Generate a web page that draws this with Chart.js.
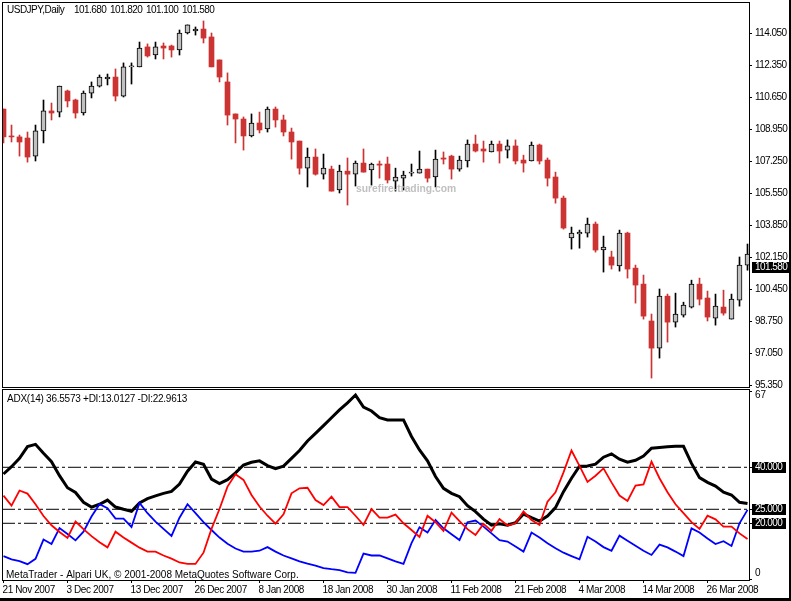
<!DOCTYPE html>
<html>
<head>
<meta charset="utf-8">
<title>USDJPY Daily ADX</title>
<script src="https://cdn.jsdelivr.net/npm/chart.js@4"></script>
<style>
    html, body { margin: 0; padding: 0; background: #fff; overflow: hidden; }
    canvas { position: absolute; left: 0; }
    #priceCanvas { top: 0; }
    #adxCanvas { top: 388px; }
    #edgeRight { position: absolute; left: 789px; top: 0; width: 2px; height: 601px; background: #000; }
    #edgeBottom { position: absolute; left: 0; top: 598px; width: 791px; height: 3px; background: #000; }
</style>
</head>
<body>
<canvas id="priceCanvas" width="789" height="388"></canvas>
<canvas id="adxCanvas" width="789" height="210"></canvas>
<div id="edgeRight"></div>
<div id="edgeBottom"></div>
<script>
const opens = [
    110.01,108.58,108.53,108.47,107.51,108.85,109.91,109.85,110.97,110.49,
    109.80,110.86,111.23,111.61,111.71,110.70,112.25,112.25,113.31,112.88,
    113.36,113.36,113.15,114.05,114.16,114.26,113.84,112.62,111.45,109.75,
    109.48,108.58,109.27,108.95,110.01,109.43,108.79,108.31,106.87,107.46,
    106.55,106.82,105.71,106.71,106.55,107.14,106.77,107.09,107.09,106.18,
    106.34,106.61,106.61,106.82,106.40,107.41,107.51,106.82,107.25,108.15,
    107.89,107.73,108.15,107.83,108.05,107.30,107.25,108.10,107.30,106.40,
    105.28,103.16,103.37,103.42,103.90,102.52,102.15,101.67,103.42,101.56,
    100.71,98.75,97.31,100.07,98.69,99.06,99.49,100.71,99.97,98.90,
    99.49,98.85,99.86,101.72
];
const highs = [
    110.01,109.16,108.63,108.79,109.16,110.49,110.33,111.23,111.02,110.54,
    110.97,111.45,111.82,111.87,112.14,112.46,112.46,113.57,113.47,113.57,
    113.52,113.41,114.21,114.48,114.37,114.69,114.05,112.62,111.93,109.75,
    109.59,109.75,109.85,110.12,110.12,109.69,109.00,108.31,107.94,107.89,
    107.62,106.98,107.03,107.41,107.25,107.89,107.14,107.25,107.46,106.87,
    106.71,107.09,107.78,106.82,107.83,107.73,107.56,107.51,108.37,108.63,
    108.31,108.31,108.31,108.37,108.37,107.56,108.26,108.15,107.41,106.66,
    105.39,103.74,103.58,104.22,104.01,103.26,102.46,103.58,103.47,101.72,
    101.19,99.12,100.45,100.18,100.23,99.75,100.92,101.03,100.34,100.18,
    100.39,100.18,102.15,102.84
];
const lows = [
    108.21,108.26,107.51,107.19,107.25,108.21,109.43,109.59,110.12,109.53,
    109.69,110.60,111.18,111.29,110.44,110.65,111.34,112.25,112.77,112.67,
    112.67,112.77,112.88,114.00,113.94,113.52,112.25,111.45,109.16,108.21,
    107.83,108.53,108.74,108.79,109.05,108.58,107.35,106.55,105.87,106.50,
    106.29,105.65,105.55,104.91,105.92,106.66,105.97,106.34,106.08,105.65,
    105.71,106.45,106.61,106.13,105.87,107.09,106.29,106.71,106.93,107.73,
    107.19,107.73,107.14,107.41,107.09,106.66,107.25,107.09,105.92,105.01,
    103.63,102.57,102.62,103.21,102.41,101.35,101.51,101.40,101.03,99.70,
    98.85,95.72,96.78,97.63,98.43,98.96,99.44,99.60,98.75,98.53,
    99.06,98.85,99.54,101.45
];
const closes = [
    108.53,108.53,108.26,107.46,108.85,109.91,109.80,111.23,110.44,109.80,
    110.86,111.23,111.71,111.71,110.70,112.25,112.30,113.25,112.83,113.31,
    113.25,113.15,114.05,114.48,114.26,113.78,112.25,111.71,109.69,109.48,
    108.58,109.27,108.90,110.01,109.43,108.79,108.26,106.87,107.46,106.55,
    106.87,105.65,106.71,106.55,107.14,106.66,107.09,107.03,106.24,106.40,
    106.50,106.66,106.82,106.34,107.35,107.35,106.82,107.30,108.15,107.78,
    107.78,108.15,107.78,108.05,107.25,107.14,108.10,107.25,106.34,105.28,
    103.69,103.42,103.47,103.90,102.52,102.68,101.72,103.42,101.51,100.66,
    99.01,97.31,100.07,98.69,99.12,99.60,100.71,99.91,98.96,99.54,
    99.17,99.91,101.72,102.30
];
const adxValues = [
    37.6,40.2,43.2,47.4,48.2,45.0,42.0,37.0,32.7,31.0,
    27.5,25.8,26.8,28.3,25.8,25.0,24.3,27.3,28.8,29.8,
    30.7,31.4,34.0,38.6,41.9,41.1,35.8,34.2,35.6,38.0,
    40.8,41.8,42.3,40.6,39.5,40.4,43.2,46.0,49.4,52.1,
    54.9,57.7,60.5,63.0,65.8,61.5,60.1,57.7,56.9,56.9,
    56.9,51.0,46.2,42.3,36.7,32.5,30.7,29.5,26.3,24.2,
    21.5,19.3,19.8,19.3,20.2,23.3,22.0,20.8,22.6,25.6,
    31.3,36.1,40.4,40.5,41.1,43.6,44.8,42.9,41.8,42.5,
    44.0,46.8,47.1,47.3,47.5,47.5,41.4,36.3,34.6,33.3,
    31.1,30.1,27.5,27.1
];
const redValues = [
    29.9,26.3,31.7,30.6,26.8,22.6,19.3,16.9,14.8,20.6,
    17.9,15.4,13.2,11.4,17.0,14.9,13.1,11.3,9.9,9.9,
    8.5,7.4,6.0,5.5,5.5,9.5,18.0,25.1,33.1,37.5,
    35.5,30.1,26.0,22.7,19.9,23.2,30.7,32.5,32.7,28.3,
    26.5,29.5,25.8,25.8,22.7,19.4,25.1,22.0,22.0,23.1,
    20.0,17.6,15.1,22.7,20.4,17.3,23.8,20.8,17.9,15.8,
    19.8,17.3,21.5,19.2,20.0,24.2,21.2,19.4,27.7,31.1,
    38.2,46.0,40.5,34.8,37.0,39.6,34.6,29.9,28.0,33.5,
    33.9,42.0,36.1,31.1,26.8,23.6,20.4,18.0,22.7,21.4,
    18.8,18.8,16.4,14.4
];
const blueValues = [
    8.3,7.1,6.5,5.4,7.3,14.2,12.6,18.3,16.2,13.9,
    17.0,22.4,26.8,25.4,21.7,21.7,18.7,27.3,23.6,20.6,
    18.0,15.5,22.0,26.8,23.6,20.4,17.6,14.9,12.7,11.0,
    9.9,9.9,10.2,11.5,9.9,8.5,7.5,6.4,5.6,4.9,
    4.0,3.6,3.3,2.5,2.3,9.2,8.5,8.5,7.5,6.4,
    5.5,12.9,18.6,16.7,21.2,18.2,16.1,14.0,20.4,21.0,
    18.8,16.4,14.0,13.5,11.7,9.9,16.7,14.9,12.9,11.1,
    9.5,8.3,7.1,15.2,13.5,11.5,10.2,15.6,13.8,12.0,
    10.2,8.7,12.4,11.4,9.9,8.3,18.2,16.7,14.6,12.6,
    13.6,11.9,20.0,24.8
];
const priceTicks = [114.05, 112.35, 110.65, 108.95, 107.25, 105.55, 103.85, 102.15, 100.45, 98.75, 97.05, 95.35];
const headerValues = ['101.680', '101.820', '101.100', '101.580'];
const dateTicks = [0, 8, 16, 24, 32, 40, 48, 56, 64, 72, 80, 88];
const dateLabels = ['21 Nov 2007', '3 Dec 2007', '13 Dec 2007', '26 Dec 2007', '8 Jan 2008', '18 Jan 2008',
    '30 Jan 2008', '11 Feb 2008', '21 Feb 2008', '4 Mar 2008', '14 Mar 2008', '26 Mar 2008'];
const adxLevels = [40, 25, 20];
const adxEnds = [0, 67];
const lastPrice = 101.58;

const FONT = '"Liberation Sans", Arial, sans-serif';
const textFont = '10px ' + FONT;
const RED = '#cc3333';
const GRAY = '#c0c0c0';
const indexes = closes.map((c, i) => i);

Chart.defaults.animation = false;
Chart.defaults.responsive = false;
Chart.defaults.devicePixelRatio = 1;
Chart.defaults.font.family = FONT;
Chart.defaults.font.size = 10;
Chart.defaults.color = '#000';

// the screen font of the original is narrow, so text gets a tighter spacing
function drawText(ctx, text, x, y, spacing, color, font) {
    ctx.letterSpacing = spacing + 'px';
    ctx.font = font || textFont;
    ctx.fillStyle = color || '#000';
    ctx.textAlign = 'left';
    ctx.textBaseline = 'middle';
    ctx.fillText(text, x, y);
}

function drawTag(ctx, value, y, width) {
    ctx.fillStyle = '#000';
    ctx.fillRect(752, y - 5, width, 11);
    drawText(ctx, value, 755, y + 0.5, -0.55, '#fff');
}

function frame(chart) {
    const a = chart.chartArea;
    chart.ctx.strokeStyle = '#000';
    chart.ctx.lineWidth = 1;
    chart.ctx.strokeRect(a.left + 0.5, a.top + 0.5, a.right - a.left, a.bottom - a.top);
}

// axis labels sit away from the plot edges here, so no overhang padding is needed
function fixedWidth(scale) {
    scale.width = 40;
    scale.paddingTop = 0;
    scale.paddingBottom = 0;
}

const pricePlugin = {
    id: 'pricePlugin',
    beforeDraw(chart) {
        chart.ctx.letterSpacing = '-0.55px';
    },
    afterDatasetsDraw(chart) {
        drawText(chart.ctx, 'surefire-trading.com', 356, 189, 0, GRAY, 'bold 10.3px ' + FONT);
    },
    afterDraw(chart) {
        frame(chart);
        drawText(chart.ctx, 'USDJPY,Daily', 7, 10, -0.5);
        headerValues.forEach((value, i) => {
            drawText(chart.ctx, value, 74 + 36 * i, 10, -0.55);
        });
        drawTag(chart.ctx, lastPrice.toFixed(3), Math.floor(chart.scales.y.getPixelForValue(lastPrice)), 37);
    }
};

const adxPlugin = {
    id: 'adxPlugin',
    beforeDraw(chart) {
        chart.ctx.letterSpacing = '-0.4px';
    },
    afterDraw(chart) {
        const y = chart.scales.y;
        frame(chart);
        drawText(chart.ctx, 'ADX(14) 36.5573 +DI:13.0127 -DI:22.9613', 7, 11, -0.25);
        drawText(chart.ctx, 'MetaTrader - Alpari UK, \u00a9 2001-2008 MetaQuotes Software Corp.', 6, 187, 0);
        drawText(chart.ctx, adxEnds[1], 755, y.getPixelForValue(adxEnds[1]) + 4, 0);
        drawText(chart.ctx, adxEnds[0], 755, y.getPixelForValue(adxEnds[0]) - 6, 0);
        adxLevels.forEach(level => {
            drawTag(chart.ctx, level.toFixed(3), Math.floor(y.getPixelForValue(level)), 34);
        });
    }
};

const xBase = {
    type: 'linear',
    offset: false,
    min: -0.1875,
    max: 93.1875
};

new Chart(document.getElementById('priceCanvas'), {
    type: 'bar',
    plugins: [pricePlugin],
    data: {
        datasets: [
            {
                // bodies
                data: indexes.map(i => ({ x: i, y: [opens[i], closes[i]] })),
                backgroundColor: indexes.map(i => closes[i] >= opens[i] ? GRAY : RED),
                borderColor: '#000',
                borderWidth: indexes.map(i => closes[i] >= opens[i] ? 1 : 0),
                borderSkipped: false,
                barThickness: 5,
                grouped: false,
                order: 1
            },
            {
                // wicks
                data: indexes.map(i => ({ x: i, y: [lows[i], highs[i]] })),
                backgroundColor: indexes.map(i => closes[i] >= opens[i] ? '#000' : RED),
                barThickness: 1,
                grouped: false,
                order: 2
            }
        ]
    },
    options: {
        layout: { padding: { left: 2, top: 2, bottom: 1 } },
        plugins: { legend: { display: false }, tooltip: { enabled: false } },
        scales: {
            x: { ...xBase, display: false },
            y: {
                position: 'right',
                min: 95.244,
                max: 115.697,
                afterFit: fixedWidth,
                afterBuildTicks(scale) { scale.ticks = priceTicks.map(value => ({ value })); },
                grid: { drawOnChartArea: false, tickLength: 3, color: '#000' },
                border: { color: '#000' },
                ticks: { padding: 3, callback: value => value.toFixed(3) }
            }
        }
    }
});

new Chart(document.getElementById('adxCanvas'), {
    type: 'line',
    plugins: [adxPlugin],
    data: {
        datasets: [
            {
                data: indexes.map(i => ({ x: i, y: redValues[i] })),
                borderColor: '#ff0000',
                borderWidth: 1.8,
                pointRadius: 0,
                order: 1
            },
            {
                data: indexes.map(i => ({ x: i, y: blueValues[i] })),
                borderColor: '#0000ff',
                borderWidth: 1.8,
                pointRadius: 0,
                order: 2
            },
            {
                data: indexes.map(i => ({ x: i, y: adxValues[i] })),
                borderColor: '#000',
                borderWidth: 3,
                pointRadius: 0,
                order: 3
            }
        ].concat(adxLevels.map(level => ({
            data: [{ x: xBase.min, y: level }, { x: xBase.max, y: level }],
            borderColor: '#000',
            borderWidth: 1,
            borderDash: [13, 3, 3, 3],
            pointRadius: 0,
            order: 4
        })))
    },
    options: {
        layout: { padding: { left: 2, top: 1 } },
        plugins: { legend: { display: false }, tooltip: { enabled: false } },
        scales: {
            x: {
                ...xBase,
                afterFit(scale) {
                    scale.height = 18;
                    scale.paddingLeft = 0;
                    scale.paddingRight = 0;
                },
                afterBuildTicks(scale) { scale.ticks = dateTicks.map(value => ({ value })); },
                grid: { drawOnChartArea: false, tickLength: 3, color: '#000' },
                border: { color: '#000' },
                ticks: {
                    align: 'start',
                    padding: 1,
                    labelOffset: -1,
                    maxRotation: 0,
                    autoSkip: false,
                    callback: value => dateLabels[dateTicks.indexOf(value)]
                }
            },
            y: {
                position: 'right',
                min: -0.25,
                max: 67.96,
                afterFit: fixedWidth,
                afterBuildTicks(scale) {
                    scale.ticks = adxEnds.concat(adxLevels).map(value => ({ value }));
                },
                grid: { drawOnChartArea: false, tickLength: 3, color: '#000' },
                border: { color: '#000' },
                ticks: { display: false }
            }
        }
    }
});
</script>
</body>
</html>
